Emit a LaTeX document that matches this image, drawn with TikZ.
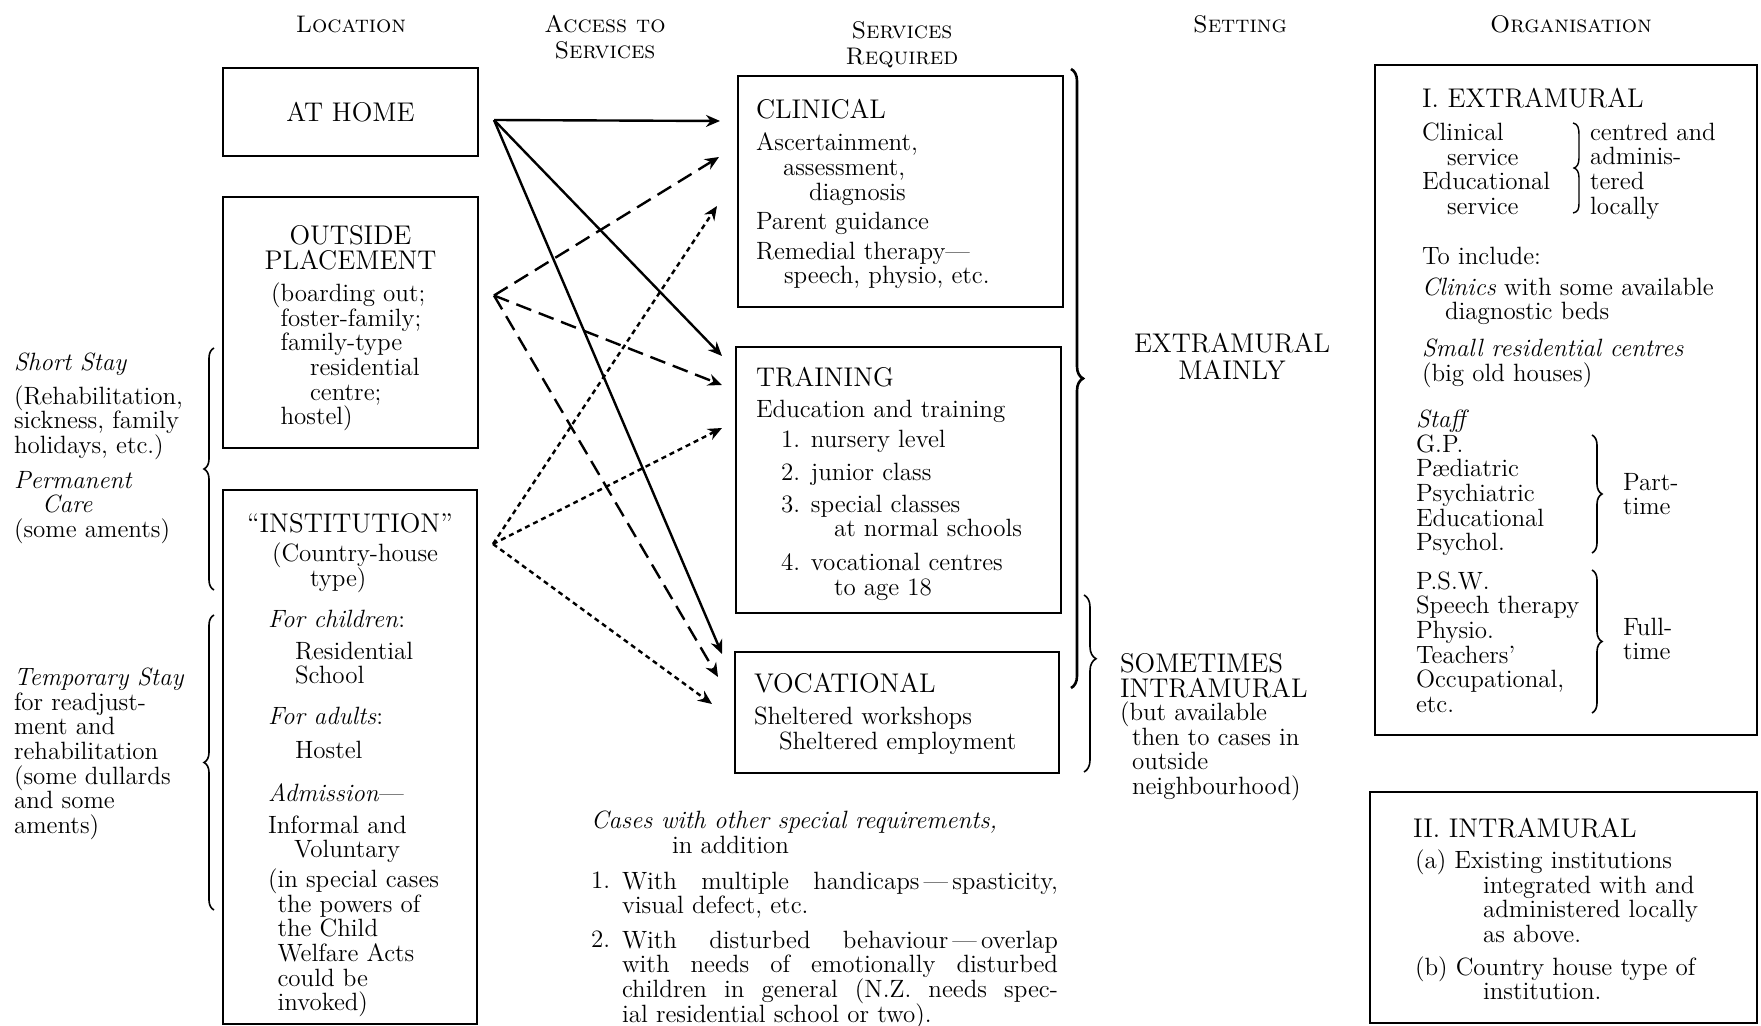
\documentclass[tikz,border=0pt]{standalone}
\usepackage{fontspec}
\usetikzlibrary{arrows.meta,calc,decorations.pathreplacing}
\newcommand\bodyf{\fontsize{12.5}{12.3}\selectfont\lineskiplimit=-20pt}
\newcommand\ttlf{\fontsize{13.5}{12.5}\selectfont\lineskiplimit=-20pt}
\newcommand\hdrf{\fontsize{12}{13}\selectfont\scshape}
\tikzset{
 box/.style={draw, line width=1.3pt, inner sep=0pt, outer sep=0pt},
 txt/.style={anchor=north west, inner sep=0pt, outer sep=0pt, align=left, font=\bodyf},
 ttl/.style={anchor=north west, inner sep=0pt, outer sep=0pt, align=left, font=\ttlf},
 hdr/.style={inner sep=0pt, align=center, font=\hdrf},
 solidarr/.style={line width=1.2pt, -{Stealth[length=7pt,width=6pt]}},
 dasharr/.style={solidarr, dash pattern=on 8pt off 4pt},
 dotarr/.style={solidarr, dash pattern=on 2.5pt off 2pt},
 brc/.style={decorate, decoration={brace, amplitude=#1}, line width=0.8pt},
}
\begin{document}
\begin{tikzpicture}[x=0.5pt,y=-0.5pt]
\useasboundingbox (0,0) rectangle (1761,1026);
\fill[white] (0,0) rectangle (1761,1026);

% headers
\node[hdr] (hloc) at (351,24) {Location};
\node[hdr] (hacc) at (605,37) {Access to\\Services};
\node[hdr] (hsrv) at (902,45) {Services\\Required};
\node[hdr] (hset) at (1240,24) {Setting};
\node[hdr] (horg) at (1571,24) {Organisation};

% boxes
\node[box, anchor=north west, minimum width=127.5pt, minimum height=44pt, font=\ttlf] (home) at (223,68) {AT HOME};
\node[box, anchor=north west, minimum width=127.5pt, minimum height=125.5pt] (outside) at (223,197) {};
\node[box, anchor=north west, minimum width=127pt, minimum height=267pt] (inst) at (223,490) {};
\node[box, anchor=north west, minimum width=162.5pt, minimum height=115.5pt] (clin) at (738,76) {};
\node[box, anchor=north west, minimum width=162.5pt, minimum height=133pt] (train) at (736,347) {};
\node[box, anchor=north west, minimum width=162pt, minimum height=60.5pt] (voc) at (735,652) {};
\node[box, anchor=north west, minimum width=191pt, minimum height=335pt] (orgi) at (1375,65) {};
\node[box, anchor=north west, minimum width=193.5pt, minimum height=115.5pt] (orgii) at (1370,792) {};

% left column
\node[txt] (ss) at (14,353) {\textit{Short Stay}\\[4.5pt](Rehabilitation,\\sickness, family\\holidays, etc.)\\[5pt]\textit{Permanent}\\\hspace*{14pt}\textit{Care}\\(some aments)};
\node[txt] (ts) at (14,668) {\textit{Temporary Stay}\\for readjust-\\ment and\\rehabilitation\\(some dullards\\and some\\aments)};
\draw[brc=5pt] (214,590) -- (214,348);
\draw[brc=5pt] (214,910) -- (214,615);

% outside placement
\node[ttl, anchor=north, align=center] (optitle) at (350.5,225) {OUTSIDE\\PLACEMENT};
\node[txt] (optext) at (271,283) {(boarding out;\\\phantom{(}foster-family;\\\phantom{(}family-type\\\hspace*{19.5pt}residential\\\hspace*{19.5pt}centre;\\\phantom{(}hostel)};

% institution
\node[ttl, anchor=north] (insttitle) at (350,513) {``INSTITUTION''};
\node[txt] (insttype) at (272,543) {(Country-house\\\hspace*{19pt}type)};
\node[txt] (instbody) at (268,610) {\textit{For children}:\\[3.7pt]\hspace*{13.5pt}Residential\\\hspace*{13.5pt}School\\[8pt]\textit{For adults}:\\[4.7pt]\hspace*{13.5pt}Hostel\\[9pt]\textit{Admission}---\\[3.7pt]Informal and\\\hspace*{13pt}Voluntary\\[2.7pt](in special cases\\\phantom{(}the powers of\\\phantom{(}the Child\\\phantom{(}Welfare Acts\\\phantom{(}could be\\\phantom{(}invoked)};

% clinical
\node[ttl] (clintitle) at (756,99) {CLINICAL};
\node[txt] (clintext) at (756,133) {Ascertainment,\\\hspace*{13.5pt}assessment,\\\hspace*{26.5pt}diagnosis\\[2.2pt]Parent guidance\\[2.7pt]Remedial therapy---\\\hspace*{14pt}speech, physio, etc.};

% training
\node[ttl] (traintitle) at (756,367) {TRAINING};
\node[txt] (traintext) at (756,400) {Education and training\\[2.7pt]\hspace*{12.5pt}1. nursery level\\[4.2pt]\hspace*{12.5pt}2. junior class\\[3.7pt]\hspace*{12.5pt}3. special classes\\\hspace*{39pt}at normal schools\\[4.7pt]\hspace*{12.5pt}4. vocational centres\\\hspace*{39pt}to age 18};

% vocational
\node[ttl] (voctitle) at (754,673) {VOCATIONAL};
\node[txt] (voctext) at (754,707) {Sheltered workshops\\\hspace*{12.5pt}Sheltered employment};

% setting
\draw[brc=6pt, line width=1.3pt] (1071,69) -- (1071,688);
\draw[brc=6pt, decoration={aspect=0.36}] (1084,595) -- (1084,772);
\node[ttl, anchor=base] (extra) at (1232,353) {EXTRAMURAL};
\node[ttl, anchor=base] (mainly) at (1232,380) {MAINLY};
\node[ttl] (some) at (1120,653) {SOMETIMES\\INTRAMURAL};
\node[txt] (sometext) at (1120,702) {(but available\\\hspace*{6pt}then to cases in\\\hspace*{6pt}outside\\\hspace*{6pt}neighbourhood)};

% organisation I
\node[ttl] (orgititle) at (1422,88) {I.\ EXTRAMURAL};
\node[txt] (orgicl) at (1422,123) {Clinical\\\hspace*{12.5pt}service\\Educational\\\hspace*{12.5pt}service};
\draw[line width=0.7pt] (1573,123) .. controls (1578,124) and (1579,128) .. (1579,135) -- (1579,158) .. controls (1579,164) and (1577,167) .. (1574,168) .. controls (1577,169) and (1579,172) .. (1579,178) -- (1579,203) .. controls (1579,209) and (1578,212) .. (1573,213);
\node[txt] (orgicr) at (1590,123) {centred and\\adminis-\\tered\\locally};
\node[txt] (orgiinc) at (1422,247) {To include:\\[3.2pt]\textit{Clinics} with some available\\\hspace*{11.5pt}diagnostic beds\\[6pt]\textit{Small residential centres}\\(big old houses)};
\node[txt] (staff) at (1416,410) {\textit{Staff}\\G.P.\\P\ae diatric\\Psychiatric\\Educational\\Psychol.\\[7pt]P.S.W.\\Speech therapy\\Physio.\\Teachers'\\Occupational,\\etc.};
\draw[brc=5pt] (1592,435) -- (1592,553);
\draw[brc=5pt] (1592,570) -- (1592,713);
\node[txt] (part) at (1623,473) {Part-\\time};
\node[txt] (full) at (1623,618) {Full-\\time};

% organisation II
\node[ttl] (orgiititle) at (1413,818) {II.\ INTRAMURAL};
\node[txt] (orgiitext) at (1415,850) {(a) Existing institutions\\\hspace*{34pt}integrated with and\\\hspace*{34pt}administered locally\\\hspace*{34pt}as above.\\[4pt](b) Country house type of\\\hspace*{34pt}institution.};

% bottom notes
\node[txt] (cases) at (591,811) {\textit{Cases with other special requirements,}\\\hspace*{40.5pt}in addition};
\node[txt] (n1) at (591,872) {1.};
\node[txt] (n1t) at (622,872) {\makebox[218pt][s]{With multiple handicaps\,---\,spasticity,}\\visual defect, etc.};
\node[txt] (n2) at (591,931) {2.};
\node[txt] (n2t) at (622,931) {\makebox[218pt][s]{With disturbed behaviour\,---\,overlap}\\\makebox[218pt][s]{with needs of emotionally disturbed}\\\makebox[218pt][s]{children in general (N.Z. needs spec-}\\ial residential school or two).};

% arrow end points
\coordinate (hs) at ($(home.east)+(16,8)$);
\coordinate (os) at ($(outside.east)+(16,-27)$);
\coordinate (is) at ($(inst.east)+(16,-213)$);
\coordinate (c1) at ($(clin.north west)+(-18,45)$);
\coordinate (c2) at ($(clin.north west)+(-19,81)$);
\coordinate (c3) at ($(clin.north west)+(-21,130)$);
\coordinate (t1) at ($(train.north west)+(-14,9)$);
\coordinate (t2) at ($(train.north west)+(-14,38)$);
\coordinate (t3) at ($(train.north west)+(-14,81)$);
\coordinate (v1) at ($(voc.north west)+(-13,2)$);
\coordinate (v2) at ($(voc.north west)+(-17,25)$);
\coordinate (v3) at ($(voc.north west)+(-23,52)$);

\draw[solidarr] (hs) -- (c1);
\draw[solidarr] (hs) -- (t1);
\draw[solidarr] (hs) -- (v1);
\draw[dasharr] (os) -- (c2);
\draw[dasharr] (os) -- (t2);
\draw[dasharr] (os) -- (v2);
\draw[dotarr] (is) -- (c3);
\draw[dotarr] (is) -- (t3);
\draw[dotarr] (is) -- (v3);
\end{tikzpicture}
\end{document}
